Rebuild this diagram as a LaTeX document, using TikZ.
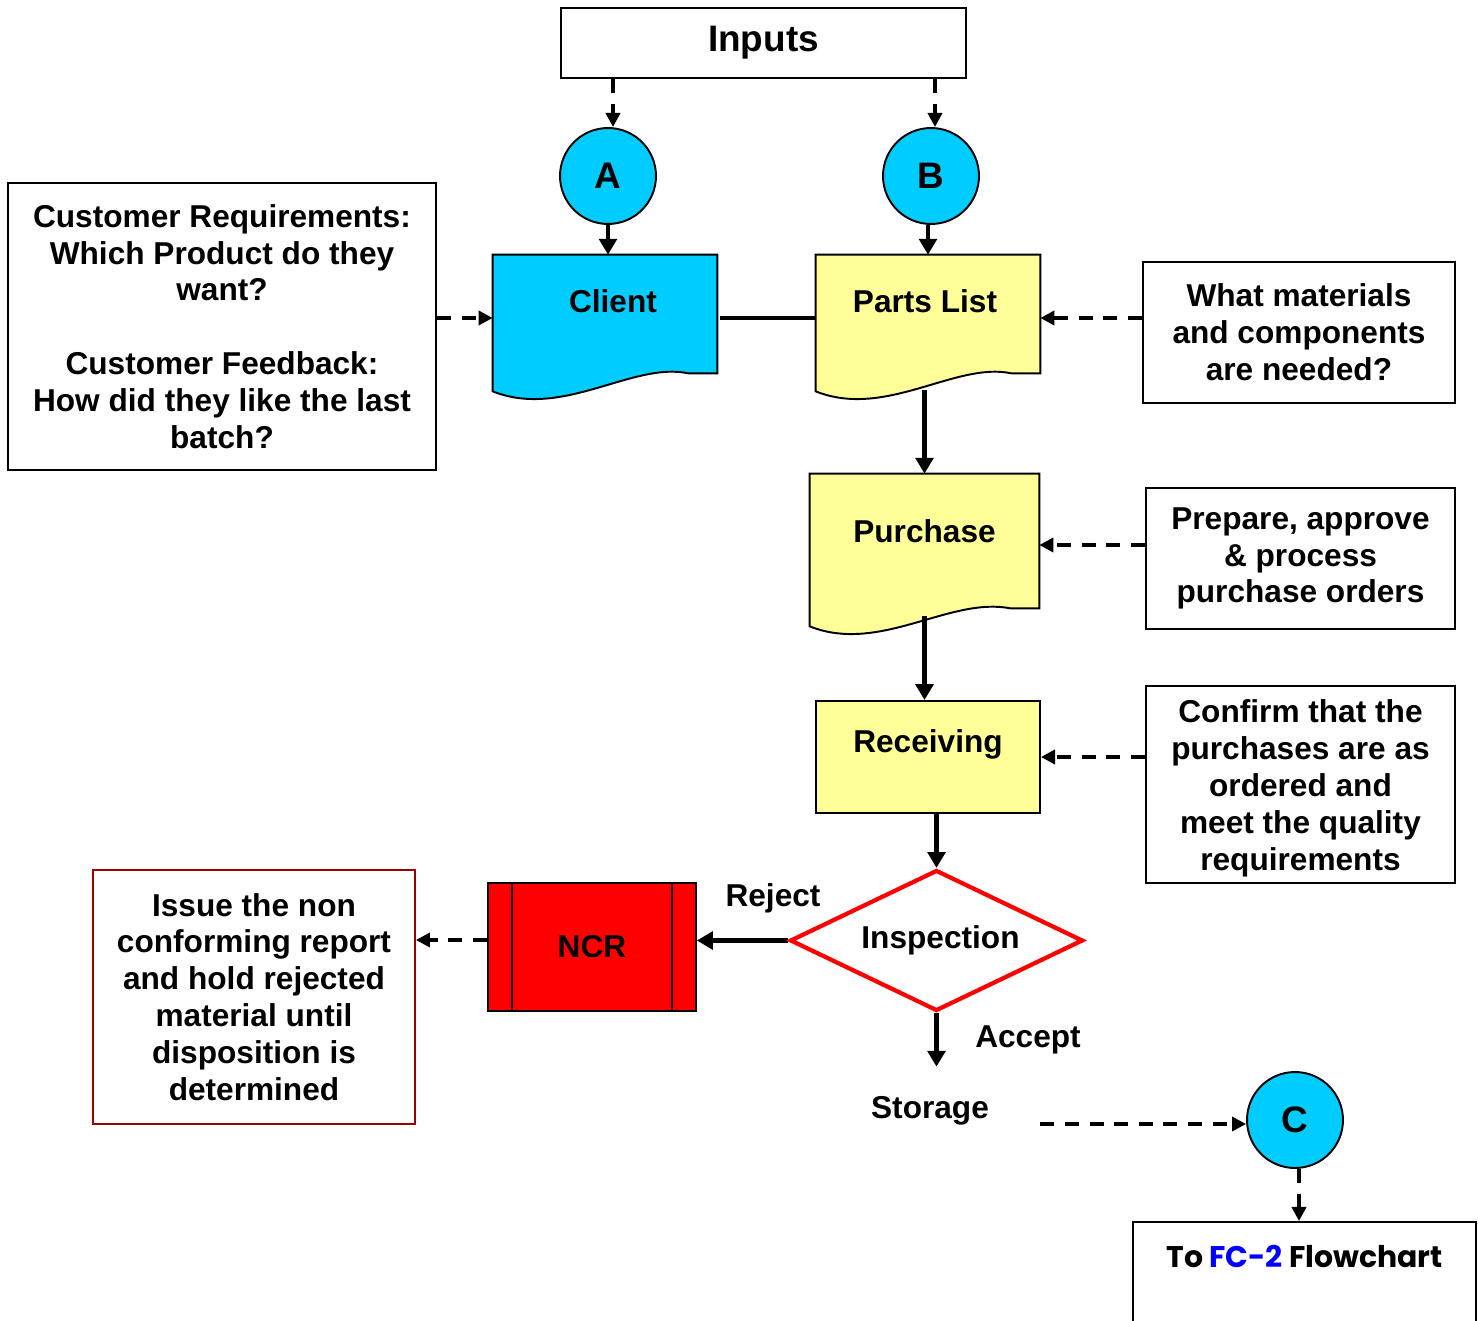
\documentclass[tikz,border=0pt]{standalone}
\usepackage{fontspec}
\setmainfont{Liberation Sans}
\newfontfamily\gothicfont{Poppins}
\usetikzlibrary{shapes.geometric,arrows.meta}
\pgfdeclarelayer{shapelayer}
\pgfdeclarelayer{edgelayer}
\pgfdeclarelayer{nodelayer}
\pgfsetlayers{shapelayer,edgelayer,nodelayer,main}
\definecolor{flowcyan}{HTML}{00CCFF}
\definecolor{flowyellow}{HTML}{FFFF99}
\definecolor{ncrred}{HTML}{FF0000}
\definecolor{noteborder}{HTML}{990000}
\definecolor{fcblue}{HTML}{0000FF}
\tikzset{font=\fontsize{18}{21}\selectfont\bfseries}
\tikzstyle{lbl}=[inner sep=0pt]
\tikzstyle{box}=[rectangle,draw,line width=1.1pt,fill=white,align=center,inner sep=0pt]
\tikzstyle{conn}=[circle,draw,line width=1.1pt,fill=flowcyan,minimum size=1.92cm,inner sep=0pt,font=\fontsize{21}{24}\selectfont\bfseries]
\tikzstyle{docarea}=[rectangle,minimum width=4.48cm,minimum height=2.52cm,inner sep=0pt]
\tikzstyle{proc}=[rectangle,draw,line width=1.1pt,fill=flowyellow,minimum width=4.48cm,minimum height=2.24cm,inner sep=0pt]
\tikzstyle{decision}=[diamond,shape aspect=2.08,draw=ncrred,line width=2.4pt,fill=white,minimum width=5.86cm,minimum height=2.82cm,inner sep=0pt]
\tikzstyle{ncrbox}=[rectangle,draw,line width=1.1pt,fill=ncrred,minimum width=4.16cm,minimum height=2.56cm,inner sep=0pt]
\tikzstyle{flow}=[line width=2.6pt,-{Triangle[length=9pt,width=10pt]}]
\tikzstyle{feed}=[line width=2.1pt,dash pattern=on 8pt off 6pt,-{Triangle[length=8pt,width=8pt]}]
% document symbol round a (text-less) node
\newcommand{\docshape}[2]{%
  \draw[line width=1.1pt,fill=#2] (#1.north west) -- (#1.north east)
    -- ([yshift=0.16cm]#1.south east) -- ([xshift=-0.58cm,yshift=0.16cm]#1.south east)
    .. controls ([xshift=2.8cm,yshift=0.4cm]#1.south west) and ([xshift=1.4cm,yshift=-0.76cm]#1.south west)
    .. ([yshift=-0.2cm]#1.south west) -- cycle;}

\begin{document}
\begin{tikzpicture}[x=0.02cm,y=-0.02cm]
	\useasboundingbox (0,0) rectangle (1478,1321);
	\begin{pgfonlayer}{nodelayer}
		\node [style=box, minimum width=8.1cm, minimum height=1.4cm, font=\fontsize{21}{24}\selectfont\bfseries] (inputs) at (763.5,43) {Inputs};
		\node [style=conn] (circA) at (608,176) {A};
		\node [style=conn] (circB) at (931,176) {B};
		\node [style=docarea, label={[xshift=0.16cm,yshift=0.34cm]center:Client}] (client) at (605,318) {};
		\node [style=docarea, label={[xshift=-0.06cm,yshift=0.34cm]center:Parts List}] (parts) at (928,318) {};
		\node [style=docarea, minimum width=4.58cm, minimum height=2.84cm, label={[yshift=0.28cm]center:Purchase}] (purchase) at (924.5,545) {};
		\node [style=proc, label={[yshift=0.26cm]center:Receiving}] (receiving) at (928,757) {};
		\node [style=decision] (inspect) at (936.5,940.5) {\hspace*{0.16cm}Inspection};
		\node [style=ncrbox] (ncr) at (592,947) {NCR};
		\draw[line width=1.1pt] ([xshift=0.5cm]ncr.north west) -- ([xshift=0.5cm]ncr.south west);
		\draw[line width=1.1pt] ([xshift=-0.5cm]ncr.north east) -- ([xshift=-0.5cm]ncr.south east);
		\node [style=box, minimum width=8.56cm, minimum height=5.74cm] (custbox) at (222,326.5) {Customer Requirements:\\Which Product do they\\want?\\[21pt]Customer Feedback:\\How did they like the last\\batch?};
		\node [style=box, minimum width=6.24cm, minimum height=2.82cm] (matbox) at (1299,332.5) {What materials\\and components\\are needed?};
		\node [style=box, minimum width=6.18cm, minimum height=2.82cm] (pobox) at (1300.5,558.5) {Prepare, approve\\\& process\\purchase orders};
		\node [style=box, minimum width=6.18cm, minimum height=3.94cm] (confbox) at (1300.5,784.5) {\rule{0pt}{0.6cm}Confirm that the\\purchases are as\\ordered and\\meet the quality\\requirements};
		\node [style=box, draw=noteborder, minimum width=6.44cm, minimum height=5.08cm] (ncrnote) at (254,997) {Issue the non\\conforming report\\and hold rejected\\material until\\disposition is\\determined};
		\node [style=lbl] (reject) at (773,898) {Reject};
		\node [style=lbl] (accept) at (1028,1040) {Accept};
		\node [style=lbl, minimum width=4.4cm, minimum height=1.76cm] (storage) at (930,1111) {Storage};
		\node [style=conn] (circC) at (1295,1120) {C};
		\node [style=box, minimum width=6.86cm, minimum height=2.6cm, label={[anchor=center, yshift=-0.7cm, font=\gothicfont\fontsize{17}{20}\selectfont\bfseries]north:To {\color{fcblue}FC-2} Flowchart}] (fcbox) at (1304.5,1287) {};
	\end{pgfonlayer}
	\begin{pgfonlayer}{shapelayer}
		\docshape{client}{flowcyan}
		\docshape{parts}{flowyellow}
		\docshape{purchase}{flowyellow}
	\end{pgfonlayer}
	\begin{pgfonlayer}{edgelayer}
		\draw[feed] ([xshift=0.1cm]circA.north |- inputs.south) to ([xshift=0.1cm]circA.north);
		\draw[feed] ([xshift=0.08cm]circB.north |- inputs.south) to ([xshift=0.08cm]circB.north);
		\draw[flow] (circA.south) to (circA.south |- client.north);
		\draw[flow] ([xshift=-0.06cm]circB.south) to ([xshift=-0.06cm]circB.south |- parts.north);
		\draw[line width=2.6pt] ([xshift=0.06cm]client.east) to (parts.west);
		\draw[flow] ([yshift=-0.18cm]purchase.north |- parts.south) to (purchase.north);
		\draw[flow] (purchase.south) to (purchase.south |- receiving.north);
		\draw[flow] (inspect.north |- receiving.south) to (inspect.north);
		\draw[flow] (inspect.west) to (inspect.west -| ncr.east);
		\draw[feed] ([yshift=0.14cm]ncr.west) to ([yshift=0.14cm]ncr.west -| ncrnote.east);
		\draw[flow] (inspect.south) to (inspect.south |- storage.north);
		\draw[feed] ([yshift=-0.08cm]storage.east |- circC.west) to ([yshift=-0.08cm]circC.west);
		\draw[feed] ([xshift=0.08cm]circC.south) to ([xshift=0.08cm]circC.south |- fcbox.north);
		\draw[feed] (custbox.east |- client.west) to (client.west);
		\draw[feed] (matbox.west |- parts.east) to (parts.east);
		\draw[feed] (pobox.west |- purchase.east) to (purchase.east);
		\draw[feed] (confbox.west |- receiving.east) to (receiving.east);
	\end{pgfonlayer}
\end{tikzpicture}
\end{document}
